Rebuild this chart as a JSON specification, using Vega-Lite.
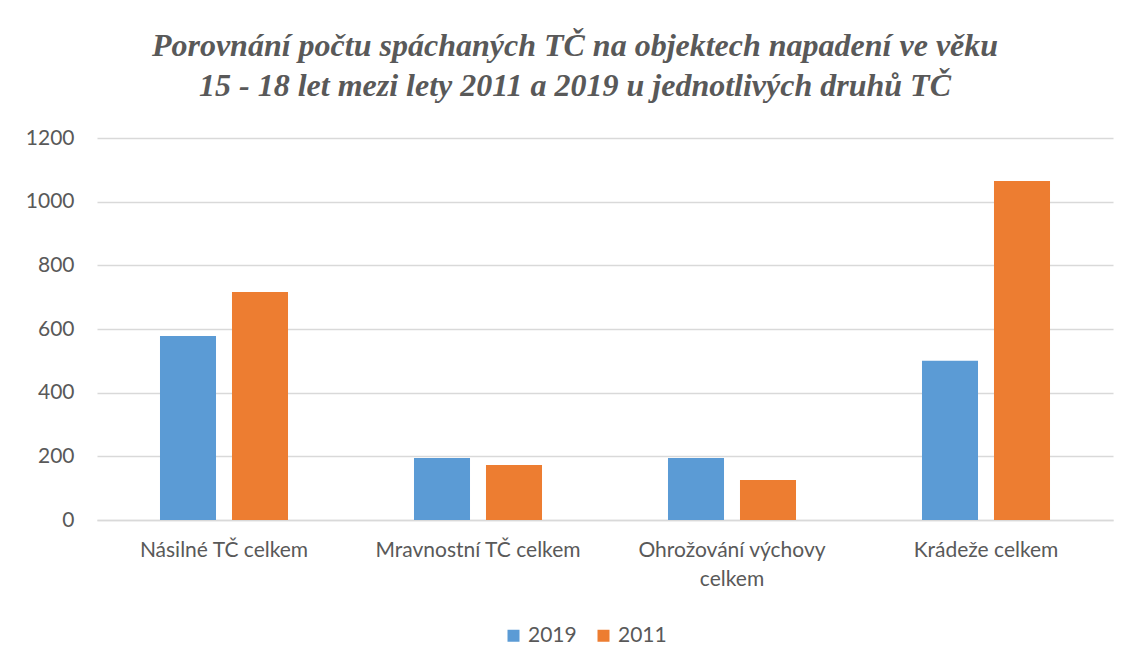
{
  "$schema": "https://vega.github.io/schema/vega-lite/v6.json",
  "width": 1016,
  "height": 382,
  "autosize": {"type": "none"},
  "padding": {"left": 97, "top": 138, "right": 19, "bottom": 146},
  "background": "white",
  "title": {
    "text": ["Porovnání počtu spáchaných TČ na objektech napadení ve věku", "15 - 18 let mezi lety 2011 a 2019 u jednotlivých druhů TČ"],
    "font": "Liberation Serif",
    "fontStyle": "italic",
    "fontWeight": "bold",
    "fontSize": 32,
    "lineHeight": 40,
    "color": "#595959",
    "anchor": "middle",
    "dx": -30,
    "offset": 24
  },
  "data": {
    "values": [
      {"kategorie": "Násilné TČ celkem", "rok": "2019", "pocet": 578},
      {"kategorie": "Násilné TČ celkem", "rok": "2011", "pocet": 716},
      {"kategorie": "Mravnostní TČ celkem", "rok": "2019", "pocet": 195},
      {"kategorie": "Mravnostní TČ celkem", "rok": "2011", "pocet": 173},
      {"kategorie": "Ohrožování výchovy celkem", "rok": "2019", "pocet": 195},
      {"kategorie": "Ohrožování výchovy celkem", "rok": "2011", "pocet": 126},
      {"kategorie": "Krádeže celkem", "rok": "2019", "pocet": 500},
      {"kategorie": "Krádeže celkem", "rok": "2011", "pocet": 1065}
    ]
  },
  "mark": {"type": "bar"},
  "encoding": {
    "x": {
      "field": "kategorie",
      "type": "nominal",
      "sort": ["Násilné TČ celkem", "Mravnostní TČ celkem", "Ohrožování výchovy celkem", "Krádeže celkem"],
      "scale": {"paddingInner": 0.496, "paddingOuter": 0.248},
      "axis": {
        "title": null,
        "labelAngle": 0,
        "labelExpr": "datum.label == 'Ohrožování výchovy celkem' ? ['Ohrožování výchovy', 'celkem'] : datum.label",
        "labelFont": "Lato",
        "labelFontSize": 21,
        "labelColor": "#595959",
        "labelLineHeight": 29,
        "labelPadding": 19,
        "labelLimit": 400,
        "ticks": false,
        "domain": true,
        "domainColor": "#D9D9D9",
        "domainWidth": 1.5
      }
    },
    "xOffset": {
      "field": "rok",
      "type": "nominal",
      "sort": ["2019", "2011"],
      "scale": {"paddingInner": 0.222, "paddingOuter": 0}
    },
    "y": {
      "field": "pocet",
      "type": "quantitative",
      "scale": {"domain": [0, 1200], "nice": false},
      "axis": {
        "title": null,
        "values": [0, 200, 400, 600, 800, 1000, 1200],
        "format": "d",
        "labelFont": "Lato",
        "labelFontSize": 21,
        "labelColor": "#595959",
        "labelPadding": 23,
        "ticks": false,
        "domain": false,
        "grid": true,
        "gridColor": "#D9D9D9",
        "gridWidth": 1.5
      }
    },
    "color": {
      "field": "rok",
      "type": "nominal",
      "sort": ["2019", "2011"],
      "scale": {"domain": ["2019", "2011"], "range": ["#5B9BD5", "#ED7D31"]},
      "legend": {
        "title": null,
        "orient": "none",
        "direction": "horizontal",
        "legendX": 406,
        "legendY": 487,
        "symbolType": "square",
        "symbolSize": 144,
        "symbolStrokeWidth": 0,
        "labelFont": "Lato",
        "labelFontSize": 21,
        "labelColor": "#595959",
        "labelOffset": 4,
        "columnPadding": 16
      }
    }
  },
  "config": {
    "view": {"stroke": null},
    "bar": {"stroke": null}
  }
}
